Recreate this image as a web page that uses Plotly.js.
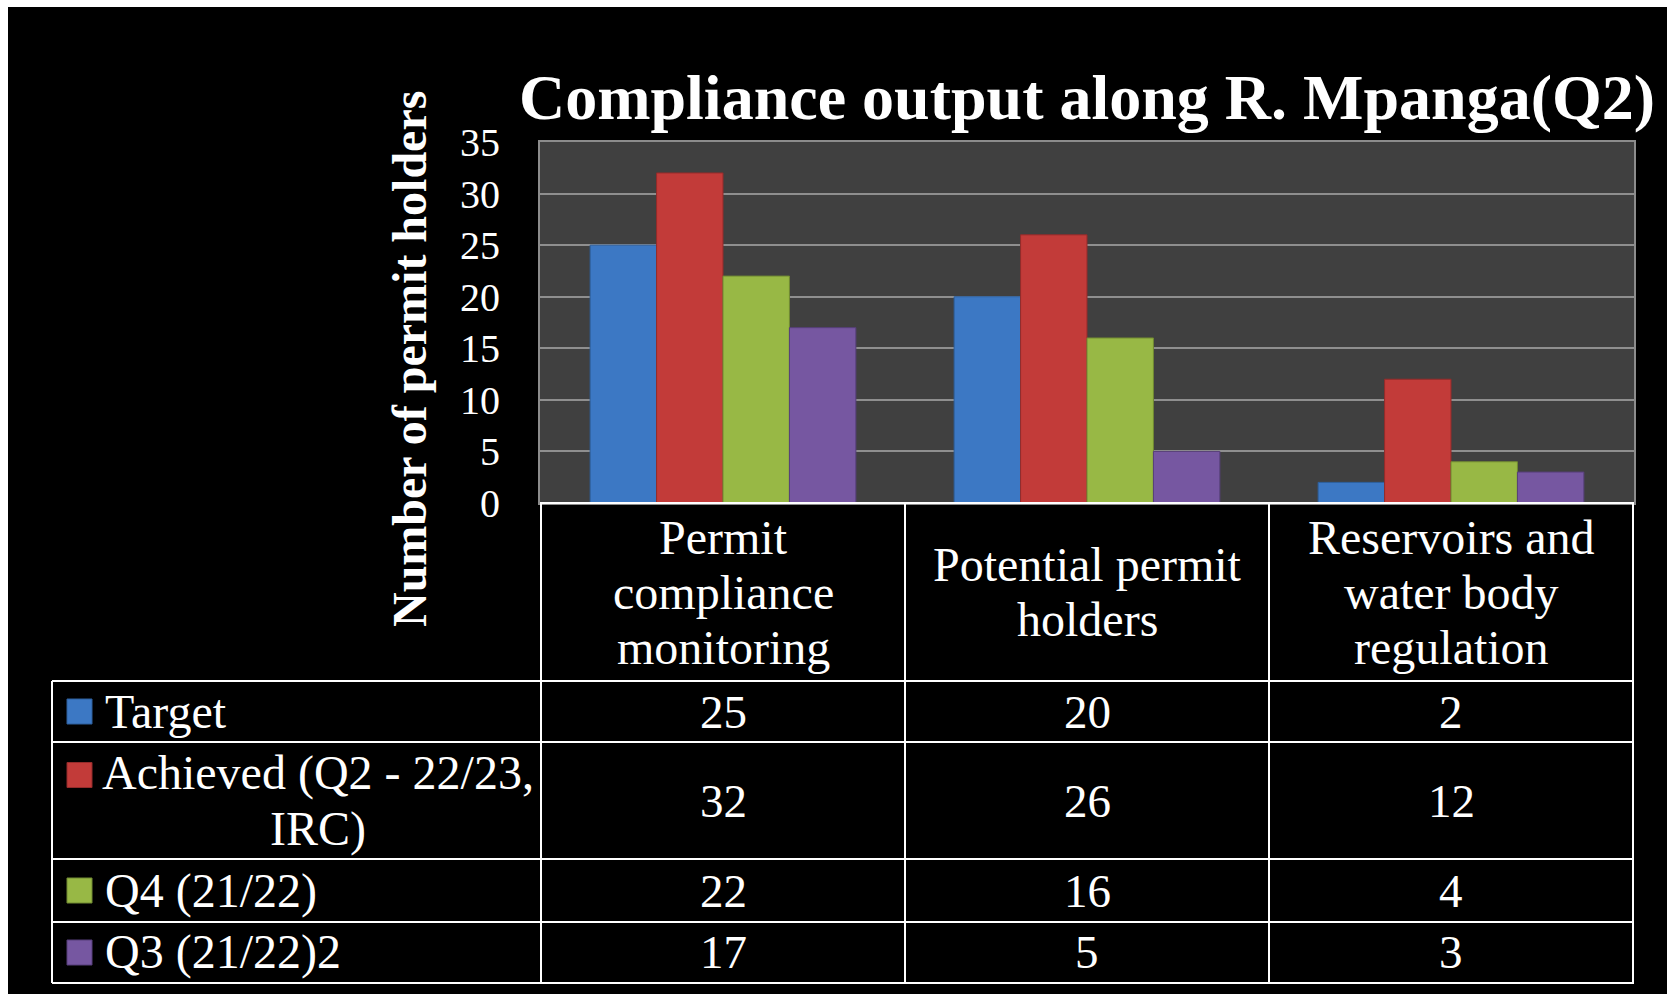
<!DOCTYPE html>
<html>
<head>
<meta charset="utf-8">
<script src="https://cdn.plot.ly/plotly-3.0.1.min.js"></script>
<style>
  html, body { margin: 0; padding: 0; background: #ffffff; width: 1667px; height: 994px; overflow: hidden; }
  #chart { position: absolute; left: 8px; top: 7px; width: 1659px; height: 987px; }
</style>
</head>
<body>
<div id="chart"></div>
<script>
// ---------------- DATA ----------------
const categories = ["Permit compliance monitoring", "Potential permit holders", "Reservoirs and water body regulation"];
const categoryLabels = ["Permit<br>compliance<br>monitoring", "Potential permit<br>holders", "Reservoirs and<br>water body<br>regulation"];
const seriesNames = ["Target", "Achieved (Q2 - 22/23, IRC)", "Q4 (21/22)", "Q3 (21/22)2"];
const seriesLabels = ["Target", "Achieved (Q2 - 22/23,<br>IRC)", "Q4 (21/22)", "Q3 (21/22)2"];
const target   = [25, 20, 2];
const achieved = [32, 26, 12];
const q4       = [22, 16, 4];
const q3       = [17, 5, 3];
const yTickValues = [0, 5, 10, 15, 20, 25, 30, 35];
const chartTitle = "Compliance output along R. Mpanga(Q2)";
const yTitle = "Number of permit holders";

// ---------------- STYLE ----------------
const seriesValues = [target, achieved, q4, q3];
const seriesColors = ["#3c78c4", "#c23b39", "#98b845", "#7657a1"];
const seriesLineColors = ["#2d5f9c", "#932b2a", "#718a32", "#573f7a"];
const serif = "Liberation Serif, Times New Roman, serif";
const white = "#ffffff";
const LINE_STEP = 55;   // text line spacing inside table cells (px)

// pixel (full page) -> paper coordinate helpers (plot area x 540..1634, y 142..503)
const PL = 540, PR = 1634, PT = 142, PB = 503;
const px = p => (p - PL) / (PR - PL);
const py = p => (PB - p) / (PB - PT);

// table row geometry (page pixels)
const rowLines = [681, 742, 859, 922, 983];
const keyCenters = [711.5, 775, 890.5, 952.5];
const valueCenters = [711.5, 800.5, 890.5, 952.5];
const labelCenters = [711.5, 801, 890.5, 952.5];
const tableLeft = 52;
const labelLeft = 103;
const labelMultiCenter = 318;

const traces = seriesNames.map((name, i) => ({
  type: "bar",
  name: name,
  x: categories,
  y: seriesValues[i],
  marker: { color: seriesColors[i], line: { color: seriesLineColors[i], width: 1 } },
  hoverinfo: "skip"
}));

const shapes = [];
const annotations = [];

// plot bottom (table top) line
shapes.push({ type: "line", xref: "paper", yref: "paper", x0: 0, x1: 1, y0: 0, y1: 0,
  line: { color: white, width: 2 } });
// horizontal table lines
rowLines.forEach(r => {
  shapes.push({ type: "line", xref: "paper", yref: "paper", x0: px(tableLeft), x1: 1, y0: py(r), y1: py(r),
    line: { color: white, width: 2 } });
});
// vertical column separators at category boundaries
for (let k = 0; k <= categories.length; k++) {
  shapes.push({ type: "line", xref: "x", yref: "paper", x0: k - 0.5, x1: k - 0.5, y0: 0, y1: py(rowLines[rowLines.length - 1]),
    line: { color: white, width: 2 } });
}
// left edge of legend column
shapes.push({ type: "line", xref: "paper", yref: "paper", x0: px(tableLeft), x1: px(tableLeft),
  y0: py(rowLines[0]), y1: py(rowLines[rowLines.length - 1]), line: { color: white, width: 2 } });

// legend keys and labels
seriesNames.forEach((n, i) => {
  shapes.push({ type: "rect", xref: "paper", yref: "paper",
    x0: px(67), x1: px(92), y0: py(keyCenters[i] + 12.5), y1: py(keyCenters[i] - 12.5),
    fillcolor: seriesColors[i], line: { color: seriesLineColors[i], width: 1 } });
  const lines = seriesLabels[i].split("<br>");
  lines.forEach((ln, j) => {
    const yc = labelCenters[i] + (j - (lines.length - 1) / 2) * LINE_STEP;
    const multi = lines.length > 1;
    annotations.push({ xref: "paper", yref: "paper",
      x: px(multi ? labelMultiCenter : labelLeft), y: py(yc),
      xanchor: multi ? "center" : "left", yanchor: "middle", showarrow: false,
      text: ln, font: { family: serif, size: 48, color: white } });
  });
});

// category headers (one annotation per text line)
categoryLabels.forEach((lab, k) => {
  const lines = lab.split("<br>");
  const mid = (PB + rowLines[0]) / 2;
  lines.forEach((ln, j) => {
    const yc = mid + (j - (lines.length - 1) / 2) * LINE_STEP;
    annotations.push({ xref: "x", yref: "paper", x: k, y: py(yc),
      xanchor: "center", yanchor: "middle", showarrow: false,
      text: ln, font: { family: serif, size: 48, color: white } });
  });
});

// table values
seriesValues.forEach((vals, i) => {
  vals.forEach((v, k) => {
    annotations.push({ xref: "x", yref: "paper", x: k, y: py(valueCenters[i]),
      xanchor: "center", yanchor: "middle", showarrow: false,
      text: String(v), font: { family: serif, size: 47, color: white } });
  });
});

// y axis title (rotated)
annotations.push({ xref: "paper", yref: "paper", x: px(409), y: py(359),
  xanchor: "center", yanchor: "middle", showarrow: false, textangle: -90,
  text: "<b>" + yTitle + "</b>", font: { family: serif, size: 48, color: white } });

const layout = {
  width: 1659,
  height: 987,
  paper_bgcolor: "#000000",
  plot_bgcolor: "#404040",
  showlegend: false,
  hovermode: false,
  barmode: "group",
  bargap: 0.27,
  bargroupgap: 0,
  margin: { l: PL - 8, r: 1667 - PR, t: PT - 7, b: 994 - PB, pad: 0 },
  title: {
    text: "<b>" + chartTitle + "</b>",
    x: (1087 - 8) / 1659, xanchor: "center",
    y: 1 - (97 - 7) / 987, yanchor: "middle",
    font: { family: serif, size: 64, color: white }
  },
  xaxis: {
    type: "category",
    showticklabels: false,
    ticks: "",
    showgrid: false,
    showline: true, linecolor: "#8c8c8c", linewidth: 2, mirror: true,
    zeroline: false,
    fixedrange: true
  },
  yaxis: {
    range: [0, 35],
    tickvals: yTickValues,
    ticktext: yTickValues.map(String),
    ticks: "outside", ticklen: 30, tickcolor: "rgba(0,0,0,0)",
    tickfont: { family: serif, size: 40, color: white },
    showgrid: true, gridcolor: "#8f8f8f", gridwidth: 2,
    showline: true, linecolor: "#8c8c8c", linewidth: 2, mirror: true,
    zeroline: false,
    fixedrange: true
  },
  shapes: shapes,
  annotations: annotations
};

Plotly.newPlot("chart", traces, layout, { staticPlot: true, displayModeBar: false });
</script>
</body>
</html>
